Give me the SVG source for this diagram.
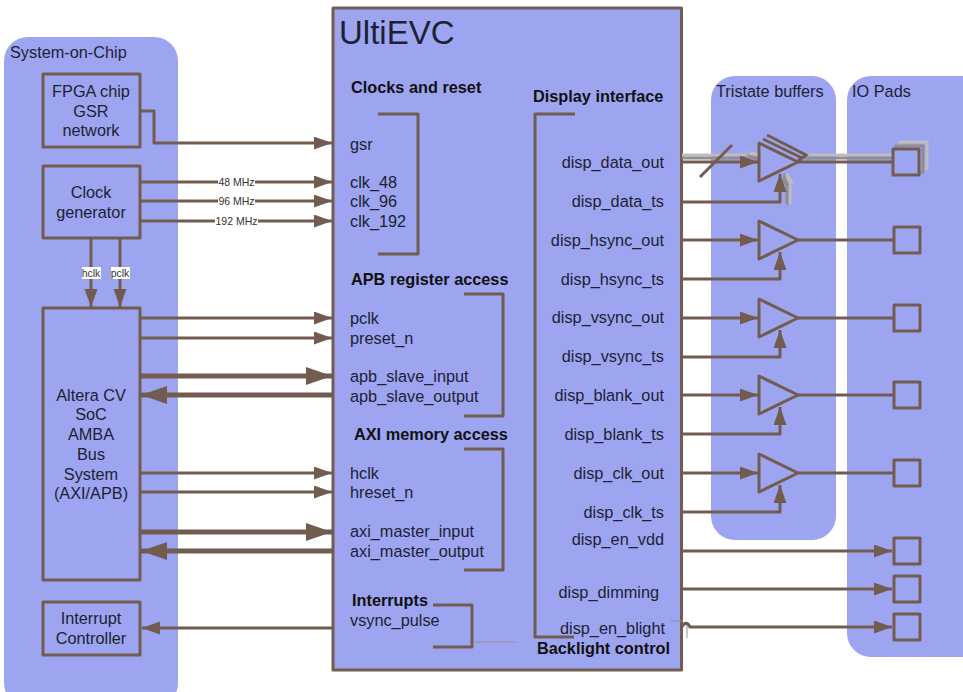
<svg xmlns="http://www.w3.org/2000/svg" width="963" height="692" viewBox="0 0 963 692">
<style>
text{font-family:"Liberation Sans",Arial,sans-serif;font-size:16.300px;fill:#1c2233;transform:translateY(0.500px)}
.b{font-weight:bold;fill:#111}
.m{text-anchor:middle}
.e{text-anchor:end}
.t{font-size:10.500px;text-anchor:middle;fill:#333}
.n{fill:#9da5f1;stroke:#725c50;stroke-width:3;stroke-linejoin:round}
.r{fill:#9da5f1;stroke:none}
.l{fill:none;stroke:#725c50;stroke-width:3;stroke-linejoin:round}
.h{fill:none;stroke:#725c50;stroke-width:5}
.lab{fill:#fff;stroke:none}
</style>
<defs>
<marker id="a" markerUnits="userSpaceOnUse" markerWidth="18" markerHeight="14" refX="18" refY="6.500" orient="auto"><path d="M0 0L18 6.500L0 13Z" fill="#725c50"/></marker>
<marker id="A" markerUnits="userSpaceOnUse" markerWidth="26" markerHeight="20" refX="26" refY="9" orient="auto"><path d="M0 0L26 9L0 18Z" fill="#725c50"/></marker>
</defs>
<g id="soc-bg"><rect class="r" x="4" y="37" width="174" height="670" rx="24"/><text x="10" y="57">System-on-Chip</text></g>
<g id="tristate-bg"><rect class="r" x="711" y="76" width="125" height="464" rx="24"/><text x="716" y="96">Tristate buffers</text></g>
<g id="pads-bg"><rect class="r" x="847" y="76" width="140" height="581" rx="24"/><text x="852" y="96">IO Pads</text></g>
<g id="ultievc">
<rect class="n" x="333" y="8" width="348.500" height="662"/>
<text x="339" y="43" style="font-size:33px">UltiEVC</text>
<text class="b" x="351" y="92">Clocks and reset</text>
<text class="b" x="533" y="101">Display interface</text>
<text class="b" x="351" y="284">APB register access</text>
<text class="b" x="354" y="439">AXI memory access</text>
<text class="b" x="352" y="605">Interrupts</text>
<text class="b" x="537" y="653">Backlight control</text>
<text x="350" y="149">gsr</text><text x="350" y="187">clk_48</text><text x="350" y="206">clk_96</text><text x="350" y="226">clk_192</text>
<text x="350" y="323">pclk</text><text x="350" y="343">preset_n</text><text x="350" y="381">apb_slave_input</text><text x="350" y="401">apb_slave_output</text>
<text x="350" y="478">hclk</text><text x="350" y="497">hreset_n</text><text x="350" y="536">axi_master_input</text><text x="350" y="556">axi_master_output</text>
<text x="350" y="625">vsync_pulse</text>
<text class="e" x="664" y="167">disp_data_out</text><text class="e" x="664" y="206">disp_data_ts</text>
<text class="e" x="664" y="245">disp_hsync_out</text><text class="e" x="664" y="284">disp_hsync_ts</text>
<text class="e" x="664" y="322">disp_vsync_out</text><text class="e" x="664" y="361">disp_vsync_ts</text>
<text class="e" x="664" y="400">disp_blank_out</text><text class="e" x="664" y="439">disp_blank_ts</text>
<text class="e" x="664" y="478">disp_clk_out</text><text class="e" x="664" y="517">disp_clk_ts</text>
<text class="e" x="664" y="544">disp_en_vdd</text><text class="e" x="659" y="597">disp_dimming</text><text class="e" x="665" y="633">disp_en_blight</text>
<path class="l" d="M378 114H418V254H378M464 294H503V416H464M464 449H503V570H464M433 605H472V647H433M575 114H535V637H574"/>
<path d="M473 642H517M670 621H683M687 622V638" fill="none" stroke="#9a8f97" stroke-width="1"/>
</g>
<g id="fpga"><rect class="n" x="43" y="74" width="97" height="73"/><text class="m" x="91" y="96">FPGA chip</text><text class="m" x="91" y="116">GSR</text><text class="m" x="91" y="135">network</text></g>
<g id="clock"><rect class="n" x="43" y="166" width="97" height="72"/><text class="m" x="91" y="197">Clock</text><text class="m" x="91" y="217">generator</text></g>
<g id="amba"><rect class="n" x="43" y="308" width="97" height="272"/><text class="m" x="91" y="400">Altera CV</text><text class="m" x="91" y="419">SoC</text><text class="m" x="91" y="439">AMBA</text><text class="m" x="91" y="459">Bus</text><text class="m" x="91" y="479">System</text><text class="m" x="91" y="498">(AXI/APB)</text></g>
<g id="irq"><rect class="n" x="43" y="602" width="97" height="53"/><text class="m" x="91" y="623">Interrupt</text><text class="m" x="91" y="643">Controller</text></g>
<g id="connectors">
<path class="l" marker-end="url(#a)" d="M141 111H154V143H332"/>
<path class="l" marker-end="url(#a)" d="M141 182H332"/><path class="l" marker-end="url(#a)" d="M141 201H332"/><path class="l" marker-end="url(#a)" d="M141 221H332"/>
<path class="l" marker-end="url(#a)" d="M91 239V307"/><path class="l" marker-end="url(#a)" d="M120 239V307"/>
<path class="l" marker-end="url(#a)" d="M141 318H332"/><path class="l" marker-end="url(#a)" d="M141 338H332"/>
<path class="h" marker-end="url(#A)" d="M140 376H332"/><path class="h" marker-end="url(#A)" d="M334 395H141"/>
<path class="l" marker-end="url(#a)" d="M141 473H332"/><path class="l" marker-end="url(#a)" d="M141 492H332"/>
<path class="h" marker-end="url(#A)" d="M140 532H332"/><path class="h" marker-end="url(#A)" d="M334 551H141"/>
<path class="l" marker-end="url(#a)" d="M334 628H142"/>
<g fill="none" stroke-width="3"><path stroke="#c0bdbc" d="M682 155H758M804 155H892"/><path stroke="#8f8c94" d="M682 158H758M804 158H892"/><path stroke="#c0bdbc" d="M789 203H790V182"/><path stroke="#8f8c94" d="M786 203H787V182"/></g>
<path d="M748 151L759 153L759 161Z" fill="#c0bdbc"/><path d="M745 154L759 157L759 163Z" fill="#8f8c94"/>
<path d="M787 172L794 183L784 183Z" fill="#c0bdbc"/><path d="M784 172L789 185L781 185Z" fill="#8f8c94"/>
<path class="l" marker-end="url(#a)" d="M682 162H758"/><path class="l" marker-end="url(#a)" d="M682 202H780V174"/>
<path class="l" d="M700 177L732 145"/>
<path class="l" d="M798 162H892"/>
<path class="l" marker-end="url(#a)" d="M682 240H758"/><path class="l" marker-end="url(#a)" d="M682 279H780V252"/><path class="l" d="M798 240H893"/>
<path class="l" marker-end="url(#a)" d="M682 318H758"/><path class="l" marker-end="url(#a)" d="M682 357H780V330"/><path class="l" d="M798 318H893"/>
<path class="l" marker-end="url(#a)" d="M682 395H758"/><path class="l" marker-end="url(#a)" d="M682 434H780V407"/><path class="l" d="M798 395H893"/>
<path class="l" marker-end="url(#a)" d="M682 473H758"/><path class="l" marker-end="url(#a)" d="M682 512H780V485"/><path class="l" d="M798 473H893"/>
<path class="l" marker-end="url(#a)" d="M682 551H892"/><path class="l" marker-end="url(#a)" d="M682 589H892"/>
<path class="l" marker-end="url(#a)" d="M682 627C684 622 688 622 690 627H892"/>
<g class="lab"><rect class="lab" x="218" y="177" width="37" height="11"/><rect class="lab" x="218" y="196" width="37" height="11"/><rect class="lab" x="215" y="216" width="43" height="11"/><rect class="lab" x="82" y="267" width="19" height="12"/><rect class="lab" x="111" y="267" width="19" height="12"/></g>
<text class="t" x="236.500" y="185">48 MHz</text><text class="t" x="236.500" y="204">96 MHz</text><text class="t" x="236.500" y="224">192 MHz</text><text class="t" x="91" y="276.500">hclk</text><text class="t" x="120" y="276.500">pclk</text>
</g>
<g id="buf-data">
<path fill="none" stroke="#725c50" stroke-width="3" d="M767 135L806 155L798 161M763 139L802 158"/>
<path class="n" d="M759 143L798 162L759 181Z"/>
</g>
<g id="buf-hsync"><path class="n" d="M759 221L798 240L759 259Z"/></g>
<g id="buf-vsync"><path class="n" d="M759 299L798 318L759 337Z"/></g>
<g id="buf-blank"><path class="n" d="M759 376L798 395L759 414Z"/></g>
<g id="buf-clk"><path class="n" d="M759 454L798 473L759 492Z"/></g>
<g id="pad-data"><rect x="900" y="142" width="27" height="26" fill="#9da5f1" stroke="#c0bdbc" stroke-width="3"/><rect x="896" y="146" width="27" height="26" fill="#9da5f1" stroke="#8f8c94" stroke-width="3"/><rect class="n" x="893" y="149" width="26" height="26"/></g>
<g id="pad-hsync"><rect class="n" x="894" y="227" width="26" height="26"/></g>
<g id="pad-vsync"><rect class="n" x="894" y="305" width="26" height="26"/></g>
<g id="pad-blank"><rect class="n" x="894" y="382" width="26" height="26"/></g>
<g id="pad-clk"><rect class="n" x="894" y="460" width="26" height="26"/></g>
<g id="pad-vdd"><rect class="n" x="894" y="538" width="26" height="26"/></g>
<g id="pad-dimming"><rect class="n" x="894" y="576" width="26" height="26"/></g>
<g id="pad-blight"><rect class="n" x="894" y="614" width="26" height="26"/></g>
</svg>
